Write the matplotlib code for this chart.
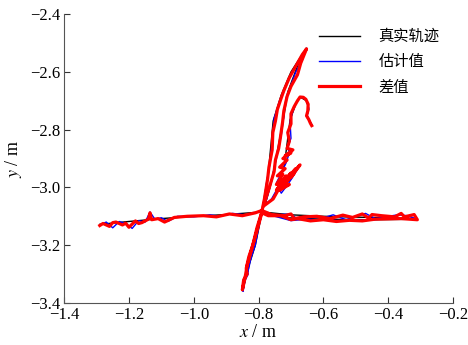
import matplotlib
matplotlib.use("Agg")
import matplotlib.pyplot as plt

plt.rcParams["font.family"] = ["Liberation Serif", "Noto Sans CJK SC"]
plt.rcParams["mathtext.fontset"] = "stix"

# true trajectory (black)
true_x = [-1.29, -1.20, -1.10, -1.00, -0.90, -0.79, -0.70, -0.60, -0.50, -0.40, -0.31,
          -0.45, -0.60, -0.72, -0.79,
          -0.81, -0.835, -0.848, -0.83, -0.80, -0.79,
          -0.77, -0.755, -0.73, -0.70, -0.653,
          -0.68, -0.71, -0.724, -0.743, -0.76, -0.78,
          -0.755, -0.72, -0.672, -0.70, -0.74, -0.72,
          -0.703, -0.685, -0.672, -0.652, -0.645, -0.652, -0.64, -0.635]
true_y = [-3.128, -3.118, -3.108, -3.100, -3.094, -3.085, -3.095, -3.100, -3.103, -3.105, -3.110,
          -3.112, -3.110, -3.105, -3.090,
          -3.20, -3.29, -3.355, -3.25, -3.12, -3.085,
          -2.95, -2.77, -2.68, -2.60, -2.518,
          -2.58, -2.67, -2.767, -2.88, -2.98, -3.06,
          -3.04, -2.97, -2.922, -2.97, -3.01, -2.92,
          -2.767, -2.71, -2.687, -2.70, -2.73, -2.755, -2.775, -2.785]

# estimated value (blue)
est_x = [-1.29, -1.27, -1.25, -1.23, -1.21, -1.19, -1.17, -1.15, -1.135, -1.12, -1.10, -1.08,
         -1.05, -1.00, -0.95, -0.92, -0.88, -0.84, -0.80, -0.75, -0.70, -0.68, -0.65, -0.60,
         -0.57, -0.53, -0.50, -0.47, -0.44, -0.40, -0.37, -0.34, -0.31, -0.35, -0.45, -0.55,
         -0.65, -0.70, -0.75, -0.79,
         -0.80, -0.81, -0.825, -0.835, -0.832, -0.845, -0.848, -0.84, -0.83, -0.82, -0.80, -0.79,
         -0.78, -0.775, -0.765, -0.76, -0.755, -0.752, -0.74, -0.735, -0.72, -0.71, -0.69,
         -0.675, -0.66, -0.653,
         -0.665, -0.685, -0.70, -0.715, -0.72, -0.724, -0.73, -0.74, -0.745, -0.755, -0.765, -0.78,
         -0.76, -0.74, -0.72, -0.69, -0.672, -0.695, -0.71, -0.73, -0.745, -0.73, -0.715, -0.705,
         -0.71, -0.70, -0.703, -0.695, -0.685, -0.672, -0.66, -0.652, -0.645, -0.65, -0.642, -0.635]
est_y = [-3.130, -3.120, -3.140, -3.118, -3.125, -3.142, -3.115, -3.120, -3.085, -3.110, -3.105, -3.118,
         -3.100, -3.102, -3.095, -3.100, -3.090, -3.095, -3.085, -3.095, -3.092, -3.110, -3.100, -3.105,
         -3.095, -3.112, -3.100, -3.090, -3.108, -3.100, -3.095, -3.098, -3.110, -3.105, -3.112, -3.115,
         -3.110, -3.115, -3.100, -3.090,
         -3.14, -3.20, -3.25, -3.27, -3.30, -3.33, -3.36, -3.31, -3.28, -3.22, -3.13, -3.09,
         -3.03, -2.98, -2.92, -2.86, -2.80, -2.76, -2.72, -2.70, -2.66, -2.63, -2.59,
         -2.56, -2.535, -2.518,
         -2.56, -2.60, -2.645, -2.69, -2.73, -2.77, -2.82, -2.87, -2.90, -2.95, -3.00, -3.06,
         -3.04, -3.00, -2.975, -2.945, -2.922, -2.965, -2.99, -3.02, -2.985, -2.95, -2.915, -2.88,
         -2.86, -2.83, -2.77, -2.74, -2.71, -2.688, -2.69, -2.70, -2.725, -2.75, -2.77, -2.785]

# difference (red)
diff_x = [-1.29, -1.28, -1.26, -1.25, -1.24, -1.22, -1.21, -1.20, -1.18, -1.17, -1.16, -1.14,
          -1.135, -1.13, -1.11, -1.09, -1.06, -1.02, -0.97, -0.93, -0.89, -0.85, -0.81, -0.79,
          -0.76, -0.72, -0.70, -0.69, -0.66, -0.62, -0.58, -0.54, -0.51, -0.48, -0.46, -0.45,
          -0.42, -0.38, -0.36, -0.35, -0.32, -0.31,
          -0.36, -0.44, -0.48, -0.52, -0.56, -0.60, -0.64, -0.68, -0.70, -0.73, -0.77, -0.79,
          -0.80, -0.815, -0.83, -0.838, -0.835, -0.846, -0.85, -0.843, -0.835, -0.82, -0.805, -0.79,
          -0.782, -0.772, -0.768, -0.758, -0.756, -0.748, -0.742, -0.73, -0.722, -0.705, -0.695,
          -0.68, -0.665, -0.652,
          -0.67, -0.68, -0.70, -0.712, -0.722, -0.726, -0.733, -0.738, -0.748, -0.752, -0.768, -0.785,
          -0.755, -0.73, -0.745, -0.715, -0.735, -0.70, -0.725, -0.685, -0.715, -0.672, -0.70,
          -0.69, -0.72, -0.705, -0.735, -0.715, -0.745, -0.725, -0.742, -0.718, -0.735,
          -0.712, -0.725, -0.70, -0.718, -0.694, -0.712, -0.705, -0.71, -0.70, -0.70, -0.69,
          -0.68, -0.672, -0.662, -0.654, -0.647, -0.648, -0.652, -0.645, -0.64, -0.636]
diff_y = [-3.132, -3.125, -3.135, -3.122, -3.120, -3.130, -3.124, -3.138, -3.116, -3.125, -3.122, -3.110,
          -3.088, -3.112, -3.108, -3.120, -3.104, -3.100, -3.098, -3.102, -3.092, -3.098, -3.088, -3.080,
          -3.094, -3.098, -3.092, -3.108, -3.102, -3.100, -3.108, -3.096, -3.104, -3.092, -3.106, -3.094,
          -3.098, -3.102, -3.090, -3.102, -3.094, -3.112,
          -3.108, -3.110, -3.116, -3.114, -3.118, -3.112, -3.116, -3.108, -3.112, -3.098, -3.098, -3.088,
          -3.13, -3.19, -3.24, -3.28, -3.30, -3.32, -3.355, -3.32, -3.27, -3.21, -3.14, -3.085,
          -3.04, -2.97, -2.93, -2.87, -2.81, -2.77, -2.73, -2.69, -2.665, -2.62, -2.60,
          -2.57, -2.54, -2.520,
          -2.57, -2.61, -2.65, -2.685, -2.735, -2.775, -2.83, -2.865, -2.905, -2.945, -3.005, -3.065,
          -3.040, -2.990, -3.010, -2.960, -3.000, -2.950, -2.985, -2.935, -2.975, -2.922, -2.965,
          -2.950, -2.990, -2.990, -3.010, -2.970, -2.990, -2.955, -2.960, -2.935, -2.930,
          -2.905, -2.900, -2.880, -2.890, -2.870, -2.865, -2.84, -2.81, -2.78, -2.745, -2.72,
          -2.70, -2.687, -2.688, -2.695, -2.712, -2.735, -2.752, -2.765, -2.778, -2.786]

fig = plt.figure(figsize=(4.68, 3.45), dpi=100)
ax = fig.add_axes([0.137, 0.122, 0.831, 0.837])

ax.plot(true_x, true_y, color="black", linewidth=1.0, label="真实轨迹")
ax.plot(est_x, est_y, color="blue", linewidth=1.0, label="估计值")
ax.plot(diff_x, diff_y, color="red", linewidth=2.3, label="差值")

ax.set_xlim(-1.4, -0.2)
ax.set_ylim(-3.4, -2.4)
ax.set_xticks([-1.4, -1.2, -1.0, -0.8, -0.6, -0.4, -0.2])
ax.set_yticks([-3.4, -3.2, -3.0, -2.8, -2.6, -2.4])
ax.set_xticklabels(["\u22121.4", "\u22121.2", "\u22121.0", "\u22120.8", "\u22120.6", "\u22120.4", "\u22120.2"])
ax.set_yticklabels(["\u22123.4", "\u22123.2", "\u22123.0", "\u22122.8", "\u22122.6", "\u22122.4"])
ax.tick_params(direction="in", length=4, width=0.8, labelsize=12, pad=3, colors="#333333")
ax.tick_params(axis="x", labelcolor="black")
ax.tick_params(axis="y", labelcolor="black")
for side in ["top", "right"]:
    ax.spines[side].set_visible(False)
for side in ["left", "bottom"]:
    ax.spines[side].set_color("#555555")
    ax.spines[side].set_linewidth(0.8)

ax.set_xlabel("$x$ / m", fontsize=13, labelpad=1)
ax.set_ylabel("$y$ / m", fontsize=13, labelpad=4)

leg = ax.legend(loc="upper left", bbox_to_anchor=(0.62, 1.0), frameon=False,
                prop={"family": "Noto Sans CJK SC", "size": 11},
                handlelength=2.7, handletextpad=1.2, labelspacing=0.55)

fig.savefig("out.png", dpi=100)
